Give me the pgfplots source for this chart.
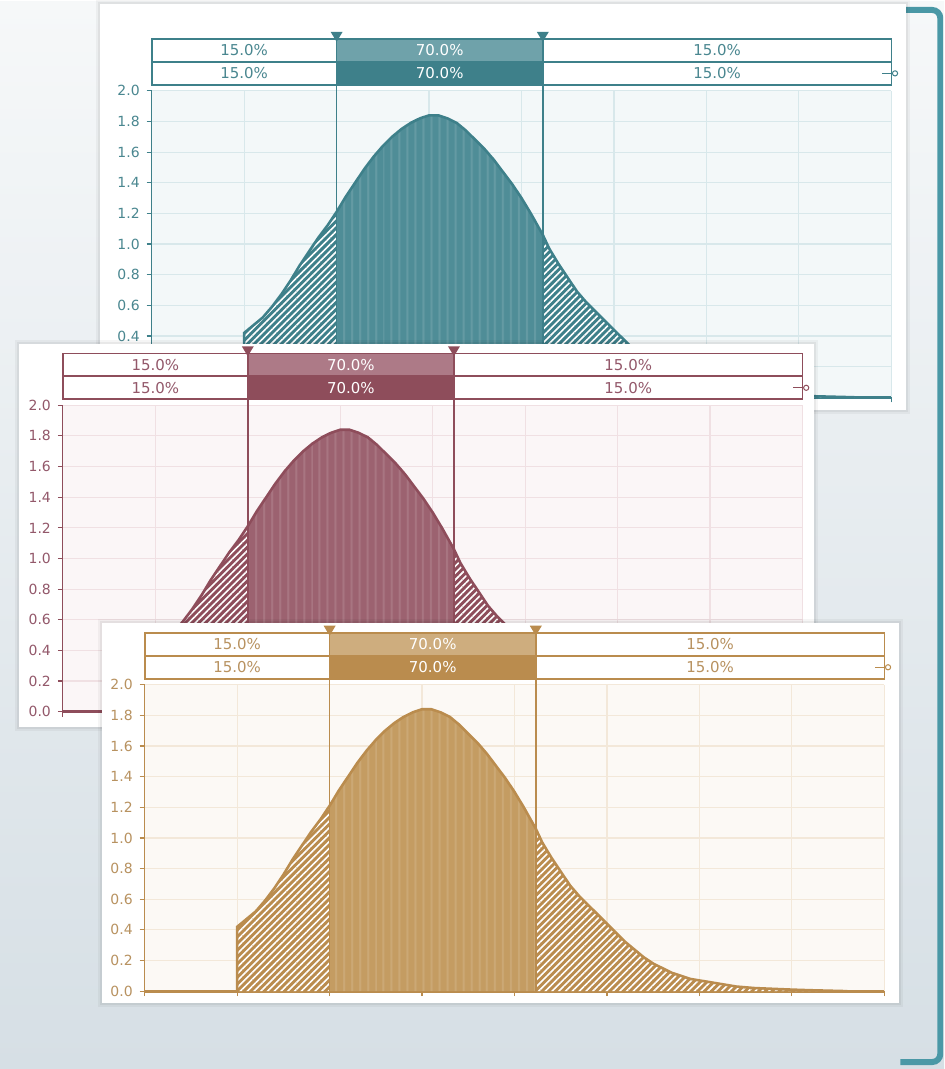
\documentclass[border=0pt]{standalone}
\usepackage{pgfplots}
\pgfplotsset{compat=1.18}
\usepackage{pgfplotstable}
\usetikzlibrary{patterns.meta}
\usepackage{fontspec}
\setmainfont{DejaVu Sans}

% colours of the three panels
\definecolor{tealdark}{HTML}{3E808A}
\definecolor{tealfill}{HTML}{4F8D97}
\definecolor{teallight}{HTML}{6FA2AA}
\definecolor{tealgrid}{HTML}{D8E8EB}
\definecolor{tealbg}{HTML}{F3F8F9}
\definecolor{tealtext}{HTML}{4A8790}
\definecolor{maroondark}{HTML}{8E4D5B}
\definecolor{maroonfill}{HTML}{9C6270}
\definecolor{maroonlight}{HTML}{AD7A87}
\definecolor{maroongrid}{HTML}{F0E0E3}
\definecolor{maroonbg}{HTML}{FBF6F7}
\definecolor{maroontext}{HTML}{93586A}
\definecolor{golddark}{HTML}{BA8C4E}
\definecolor{goldfill}{HTML}{C49C62}
\definecolor{goldlight}{HTML}{CEAD7E}
\definecolor{goldgrid}{HTML}{F3E8D9}
\definecolor{goldbg}{HTML}{FCF9F5}
\definecolor{goldtext}{HTML}{B89260}
\definecolor{bracket}{HTML}{4A98A6}
\definecolor{bgtop}{HTML}{F6F8F9}
\definecolor{bgbottom}{HTML}{D6DFE5}

% density, split at the 15% / 85% markers
\pgfplotstableread{
x y
1.0 0
1.0 0.42
1.1 0.47
1.2 0.52
1.3 0.59
1.4 0.67
1.5 0.76
1.6 0.86
1.7 0.95
1.8 1.04
1.9 1.12
2.0 1.21
}\lefttail
\pgfplotstableread{
x y
2.0 1.21
2.1 1.31
2.2 1.40
2.3 1.49
2.4 1.57
2.5 1.64
2.6 1.70
2.7 1.75
2.8 1.79
2.9 1.82
3.0 1.84
3.1 1.84
3.2 1.82
3.3 1.79
3.4 1.74
3.5 1.68
3.6 1.62
3.7 1.55
3.8 1.47
3.9 1.39
4.0 1.30
4.1 1.20
4.23 1.06
}\midpart
\pgfplotstableread{
x y
4.23 1.06
4.3 0.97
4.4 0.87
4.5 0.78
4.6 0.69
4.7 0.62
4.8 0.56
4.9 0.50
5.0 0.44
5.1 0.38
5.2 0.32
5.3 0.27
5.4 0.22
5.5 0.18
5.6 0.15
5.7 0.12
5.8 0.10
5.9 0.08
6.0 0.07
6.2 0.05
6.4 0.03
6.6 0.02
6.8 0.015
7.0 0.01
7.2 0.006
7.4 0.003
7.6 0.0
}\righttail

\newcommand{\boxfont}{\fontsize{7.5}{9}\selectfont}

% #1 colour prefix, #2 position of the axis' lower left corner, #3 extra options
\newcommand{\distchart}[3]{%
\begin{axis}[at={#2}, anchor=south west, scale only axis,
  width=370.5pt, height=153.5pt,
  xmin=0, xmax=8, ymin=0, ymax=2, clip=false,
  axis x line*=bottom, axis y line*=left,
  xtick={0,1,2,3,4,5,6,7,8}, xticklabels={},
  ytick={0,0.2,0.4,0.6,0.8,1.0,1.2,1.4,1.6,1.8,2.0},
  yticklabel style={/pgf/number format/.cd, fixed, fixed zerofill, precision=1,
    assume math mode=true},
  ticklabel style={font=\fontsize{7}{8}\selectfont, text=#1text},
  tick align=outside, major tick length=2.5pt,
  tick style={#1dark, line width=0.6pt},
  x axis line style={#1dark, line width=1.4pt},
  y axis line style={#1dark, line width=0.6pt},
  grid=major, major grid style={#1grid, line width=0.6pt},
  axis background/.style={fill=#1bg},
  #3
]
\addplot[draw=none, fill=#1dark] table {\lefttail} \closedcycle;
\addplot[draw=none, pattern={Lines[angle=45,distance=2.4pt,line width=0.8pt]},
  pattern color=white] table {\lefttail} \closedcycle;
\addplot[draw=none, fill=#1dark] table {\righttail} \closedcycle;
\addplot[draw=none, pattern={Lines[angle=45,distance=2.4pt,line width=0.8pt]},
  pattern color=white] table {\righttail} \closedcycle;
\addplot[draw=none, fill=#1fill] table {\midpart} \closedcycle;
\addplot[draw=none, pattern={Lines[angle=90,distance=4pt,line width=1pt]},
  pattern color=white, fill opacity=0.12] table {\midpart} \closedcycle;
\addplot[#1dark, line width=1.3pt] table {\lefttail};
\addplot[#1dark, line width=1.3pt] table {\midpart};
\addplot[#1dark, line width=1.3pt] table {\righttail};
% percentage boxes
\fill[white] (axis cs:0,2.039) rectangle (axis cs:8,2.339);
\fill[#1dark] (axis cs:2,2.039) rectangle (axis cs:4.23,2.189);
\fill[#1light] (axis cs:2,2.189) rectangle (axis cs:4.23,2.339);
\draw[#1dark, line width=0.8pt] (axis cs:0,2.039) rectangle (axis cs:8,2.339);
\draw[#1dark, line width=0.8pt] (axis cs:0,2.189) -- (axis cs:8,2.189);
\draw[#1dark, line width=0.8pt] (axis cs:2,0) -- (axis cs:2,2.339);
\draw[#1dark, line width=0.8pt] (axis cs:4.23,0) -- (axis cs:4.23,2.339);
\fill[#1dark] (axis cs:1.935,2.385) -- (axis cs:2.065,2.385) -- (axis cs:2,2.32) -- cycle;
\fill[#1dark] (axis cs:4.165,2.385) -- (axis cs:4.295,2.385) -- (axis cs:4.23,2.32) -- cycle;
\node[text=#1text, font=\boxfont] at (axis cs:1,2.264) {15.0\%};
\node[text=#1text, font=\boxfont] at (axis cs:1,2.114) {15.0\%};
\node[text=white, font=\boxfont] at (axis cs:3.115,2.264) {70.0\%};
\node[text=white, font=\boxfont] at (axis cs:3.115,2.114) {70.0\%};
\node[text=#1text, font=\boxfont] at (axis cs:6.115,2.264) {15.0\%};
\node[text=#1text, font=\boxfont] at (axis cs:6.115,2.114) {15.0\%};
\draw[#1dark, line width=0.6pt] (axis cs:7.9,2.114) -- (axis cs:8.03,2.114);
\draw[#1dark, line width=0.5pt, fill=white] (axis cs:8.04,2.114) circle (1.3pt);
\end{axis}}

\newcommand{\panel}[4]{%
  \fill[black, opacity=0.04] (#1-4,#2-4) rectangle (#3+4,#4+4);
  \fill[black, opacity=0.05] (#1-2,#2-2) rectangle (#3+2,#4+2);
  \fill[white] (#1,#2) rectangle (#3,#4);}

\begin{document}
\begin{tikzpicture}[x=0.5pt, y=-0.5pt]
\shade[top color=bgtop, bottom color=bgbottom] (0,0) rectangle (946,1069);
\draw[bracket, line width=3pt, line cap=butt] (902,8) -- (934,8)
  to[out=0,in=90] (942,16) -- (942,1054) to[out=-90,in=0] (934,1062) -- (902,1062);

\panel{100}{2}{908}{409}
% the lowest two labels of this panel lie under the next panel
\distchart{teal}{(76pt,-198pt)}{yticklabels={,,0.4,0.6,0.8,1.0,1.2,1.4,1.6,1.8,2.0}}

\panel{19}{343}{816}{726}
\distchart{maroon}{(31.5pt,-355.5pt)}{}

\panel{102}{622}{901}{1003}
\distchart{gold}{(72.5pt,-495.5pt)}{}
\end{tikzpicture}
\end{document}
